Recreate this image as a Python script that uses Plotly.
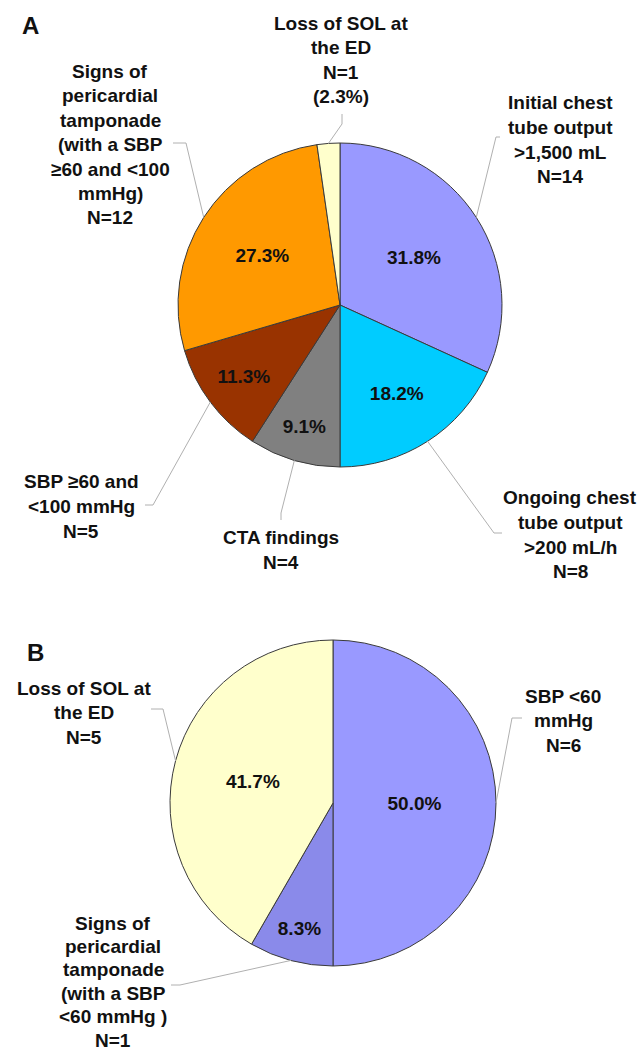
import math
import plotly.graph_objects as go

# ---------------- data ----------------
cats_a = ["Initial chest tube output", "Ongoing chest tube output", "CTA findings",
          "SBP >=60 and <100 mmHg", "Signs of pericardial tamponade", "Loss of SOL at the ED"]
values_a = [14, 8, 4, 5, 12, 1]
pct_a = ["31.8%", "18.2%", "9.1%", "11.3%", "27.3%", "2.3%"]
lines_a = [["Initial chest", "tube output", ">1,500 mL"],
           ["Ongoing chest", "tube output", ">200 mL/h"],
           ["CTA findings"],
           ["SBP ≥60 and", "<100 mmHg"],
           ["Signs of", "pericardial", "tamponade", "(with a SBP", "≥60 and <100", "mmHg)"],
           ["Loss of SOL at", "the ED"]]
colors_a = ["#9999FF", "#00CCFF", "#808080", "#993300", "#FF9900", "#FFFFCC"]

cats_b = ["SBP <60 mmHg", "Signs of pericardial tamponade", "Loss of SOL at the ED"]
values_b = [6, 1, 5]
pct_b = ["50.0%", "8.3%", "41.7%"]
lines_b = [["SBP <60", "mmHg"],
           ["Signs of", "pericardial", "tamponade", "(with a SBP", "<60 mmHg )"],
           ["Loss of SOL at", "the ED"]]
colors_b = ["#9999FF", "#8A8AEA", "#FFFFCC"]

# ---------------- layout constants (pixels) ----------------
W, H = 638, 1054
FONT = "Liberation Sans, Arial, sans-serif"
LBL_SIZE = 19
PCT_SIZE = 19
LINE_GAP = 24.5

PIE_A = dict(cx=340, cy=305, r=162)
PIE_B = dict(cx=333, cy=803, r=163)

# label placement: (center x, first line y), leader (label end, elbow)
place_a = [dict(x=560, y=103, p0=(500, 137), p1=(496, 137)),
           dict(x=570, y=498, p0=(502, 533), p1=(494, 533)),
           dict(x=281, y=538, p0=(281, 520), p1=(281, 513)),
           dict(x=81, y=482, p0=(145, 505), p1=(153, 505)),
           dict(x=110, y=71, p0=(173, 143), p1=(186, 143)),
           dict(x=341, y=23, p0=(342, 114), p1=(342, 124))]
place_b = [dict(x=563, y=696, p0=(522, 718), p1=(512, 718)),
           dict(x=113, y=923, gap=23.4, p0=(171, 985), p1=(180, 985)),
           dict(x=84, y=688, p0=(151, 709), p1=(163, 709))]


def px(x):
    return x / W


def py(y):
    return 1 - y / H


def domain(p):
    return dict(x=[px(p["cx"] - p["r"]), px(p["cx"] + p["r"])],
                y=[py(p["cy"] + p["r"]), py(p["cy"] - p["r"])])


fig = go.Figure()

inside_a = [t if v / sum(values_a) > 0.05 else "" for t, v in zip(pct_a, values_a)]
fig.add_trace(go.Pie(labels=cats_a, values=values_a, text=inside_a, textinfo="text",
                     sort=False, direction="clockwise", rotation=0,
                     marker=dict(colors=colors_a, line=dict(color="#3a3a3a", width=1)),
                     textposition="inside", insidetextorientation="horizontal",
                     textfont=dict(family=FONT, size=PCT_SIZE, color="#111111", weight="bold"),
                     domain=domain(PIE_A), showlegend=False, hoverinfo="label+value"))
fig.add_trace(go.Pie(labels=cats_b, values=values_b, text=pct_b, textinfo="text",
                     sort=False, direction="clockwise", rotation=0,
                     marker=dict(colors=colors_b, line=dict(color="#3a3a3a", width=1)),
                     textposition="inside", insidetextorientation="horizontal",
                     textfont=dict(family=FONT, size=PCT_SIZE, color="#111111", weight="bold"),
                     domain=domain(PIE_B), showlegend=False, hoverinfo="label+value"))

annotations = []
shapes = []


def add_text(x, y, s, size=LBL_SIZE):
    annotations.append(dict(x=px(x), y=py(y), xref="paper", yref="paper", text=s,
                            showarrow=False, xanchor="center", yanchor="middle",
                            font=dict(family=FONT, size=size, color="#111111", weight="bold")))


def mid_edge(values, i, p):
    tot = sum(values)
    cum = sum(values[:i]) + values[i] / 2
    ang = math.radians(90 - 360 * cum / tot)
    return p["cx"] + p["r"] * math.cos(ang), p["cy"] - p["r"] * math.sin(ang)


def add_labels(values, lines, places, pie, pct, extra_pct_idx=None):
    for i, (ln, pl) in enumerate(zip(lines, places)):
        all_lines = ln + [f"N={values[i]}"]
        if extra_pct_idx is not None and i == extra_pct_idx:
            all_lines = all_lines + [f"({pct[i]})"]
        gap = pl.get("gap", LINE_GAP)
        for k, s in enumerate(all_lines):
            add_text(pl["x"], pl["y"] + k * gap, s)
        ex, ey = mid_edge(values, i, pie)
        (x0, y0), (x1, y1) = pl["p0"], pl["p1"]
        shapes.append(dict(type="path", xref="paper", yref="paper",
                           path=f"M {px(x0)},{py(y0)} L {px(x1)},{py(y1)} L {px(ex)},{py(ey)}",
                           line=dict(color="#b0b0b0", width=1)))


add_labels(values_a, lines_a, place_a, PIE_A, pct_a, extra_pct_idx=5)
add_labels(values_b, lines_b, place_b, PIE_B, pct_b)

add_text(30, 26, "A", size=24)
add_text(35, 652, "B", size=24)

fig.update_layout(width=W, height=H, margin=dict(l=0, r=0, t=0, b=0),
                  paper_bgcolor="white", plot_bgcolor="white",
                  annotations=annotations, shapes=shapes)

fig.write_html("out.html", config={"displayModeBar": False},
               post_script="document.body.style.margin='0';document.body.style.overflow='hidden';")
